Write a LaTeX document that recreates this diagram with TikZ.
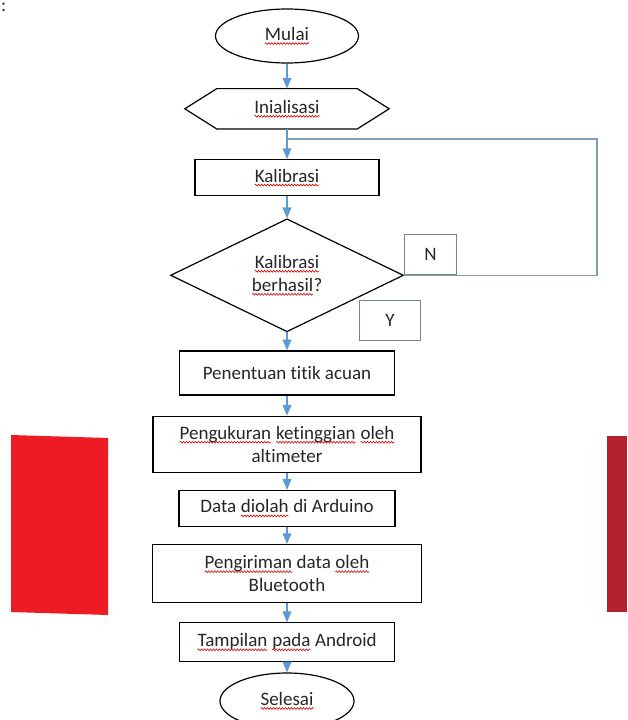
\documentclass[tikz,border=0pt]{standalone}
\usepackage{fontspec}
\setmainfont{Carlito}[Ligatures=NoCommon]
\usetikzlibrary{positioning, arrows, shapes, decorations.pathmorphing}
\definecolor{panah}{HTML}{5B9BD5}
\definecolor{garis}{HTML}{7F9CB6}
\definecolor{tepi}{HTML}{7A8490}
\definecolor{merah}{HTML}{ED1C24}
\definecolor{merahtua}{HTML}{B3232D}
\tikzset{
    >=triangle 45, % filled arrow heads
    every node/.style={font=\fontsize{19}{23}\selectfont, text=black!85}, % text like the original
    kotak/.style={draw, rectangle, line width=1.2pt, align=center}, % process boxes
    ujung/.style={draw, ellipse, line width=1.2pt, inner sep=0pt}, % start and end
    putusan/.style={draw, diamond, line width=1.2pt, align=center, inner sep=0pt}, % decision
    tanda/.style={draw=tepi, line width=1pt, minimum width=52pt, minimum height=40pt}, % N and Y
    alir/.style={->, draw=panah, line width=1.5pt}, % blue flow arrows
    balikan/.style={draw=garis, line width=1.2pt}, % loop back line
    ombak/.style={draw=red!85!black, line width=0.6pt, decorate,
        decoration={snake, amplitude=0.9pt, segment length=3pt}}, % spell-check wave
}
% word with a red wave under it
\newcommand\salah[1]{\tikz[baseline=(kata.base)]{\node[rectangle, draw=none, inner sep=0pt, outer sep=0pt,
        minimum width=0pt, minimum height=0pt, anchor=center] (kata) {#1};
    \draw[ombak] ([yshift=-3pt]kata.base west) -- ([yshift=-3pt]kata.base east);}}
\begin{document}
\begin{tikzpicture}[x=1pt, y=-1pt]
    \useasboundingbox (0,0) rectangle (627,720);

    % red pieces at the sides
    \fill[merah] (11,435) -- (108,438) -- (108,615) -- (11,612) -- cycle;
    \fill[merahtua] (607,436) -- (627,436) -- (627,612) -- (607,612) -- cycle;
    \node[inner sep=0pt, anchor=north west] (titik) at (1,3) {:};

    \node[ujung, minimum width=143pt, minimum height=54pt] (mulai) at (287,36) {\salah{Mulai}};
    \node[minimum width=204pt, minimum height=40pt, below=25pt of mulai] (init) {\salah{Inialisasi}};
    \draw[line width=1.2pt] (init.west) -- ([xshift=32pt]init.north west) -- ([xshift=-32pt]init.north east)
        -- (init.east) -- ([xshift=-32pt]init.south east) -- ([xshift=32pt]init.south west) -- cycle;
    \node[kotak, minimum width=184pt, minimum height=36pt, below=30pt of init] (kal) {\salah{Kalibrasi}};
    \node[putusan, minimum width=233pt, minimum height=113pt, below=22pt of kal] (cek) {\salah{Kalibrasi}\\\salah{berhasil}?};
    \node[tanda, anchor=south west] (n) at (cek.east) {N};
    \node[tanda, minimum width=61pt, below left=25pt and -17pt of cek.east] (y) {Y};
    \node[kotak, minimum width=215pt, minimum height=44pt, below=18pt of cek] (tentu) {Penentuan titik acuan};
    \node[kotak, minimum width=268pt, minimum height=56pt, below=20pt of tentu] (ukur) {\salah{Pengukuran} \salah{ketinggian} \salah{oleh}\\altimeter};
    \node[kotak, minimum width=216pt, minimum height=36pt, below=17pt of ukur] (olah) {Data \salah{diolah} di Arduino};
    \node[kotak, minimum width=269pt, minimum height=58pt, below=17pt of olah] (kirim) {\salah{Pengiriman} data \salah{oleh}\\Bluetooth};
    \node[kotak, minimum width=215pt, minimum height=39pt, below=19pt of kirim] (tampil) {\salah{Tampilan} \salah{pada} Android};
    \node[ujung, minimum width=134pt, minimum height=56pt, below=10pt of tampil] (selesai) {\salah{Selesai}};

    \coordinate (balik) at (597,139);

    \draw[alir] (mulai) -- (init);
    \draw[alir] (init) -- (kal);
    \draw[alir] (kal) -- (cek);
    \draw[balikan] (cek.east) -| (balik) -- (balik -| kal.north);
    \draw[alir] (cek) -- (tentu);
    \draw[alir] (tentu) -- (ukur);
    \draw[alir] (ukur) -- (olah);
    \draw[alir] (olah) -- (kirim);
    \draw[alir] (kirim) -- (tampil);
    \draw[alir] (tampil) -- (selesai);
\end{tikzpicture}
\end{document}
